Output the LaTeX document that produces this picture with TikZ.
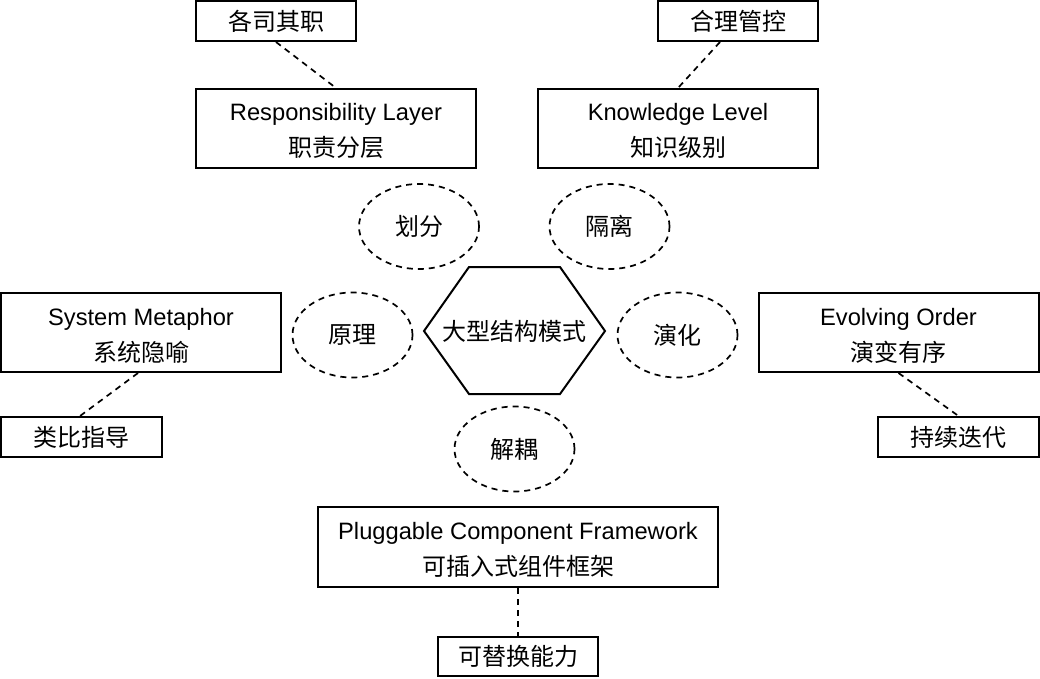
\documentclass[tikz,border=0pt]{standalone}
\usepackage{fontspec}
\setmainfont{Liberation Sans}
\newfontfamily\cjk{Noto Sans CJK SC}
\usetikzlibrary{shapes.geometric}
\newcommand\tstrut{\rule{0pt}{23pt}}
\begin{document}
\begin{tikzpicture}[x=1pt,y=-1pt,
  box/.style={draw, line width=2pt, inner sep=0pt, align=center,
    font=\fontsize{23.7}{36}\selectfont},
  oval/.style={draw, ellipse, line width=1.7pt, dash pattern=on 6pt off 5pt,
    minimum width=120pt, minimum height=85pt, inner sep=0pt,
    font=\cjk\fontsize{24}{28}\selectfont},
  core/.style={inner sep=0pt, font=\cjk\fontsize{24}{28}\selectfont},
  link/.style={line width=1.7pt, dash pattern=on 6pt off 5pt}]
\useasboundingbox (0,0) rectangle (1040,678);

% boxes
\node[box, minimum width=160pt, minimum height=40pt] (gs) at (276,21) {\cjk\fontsize{24}{28}\selectfont 各司其职};
\node[box, minimum width=280pt, minimum height=79pt] (rl) at (336,128.5) {\tstrut Responsibility Layer\\\cjk\fontsize{24}{36}\selectfont 职责分层};
\node[box, minimum width=160pt, minimum height=40pt] (hl) at (738,21) {\cjk\fontsize{24}{28}\selectfont 合理管控};
\node[box, minimum width=280pt, minimum height=79pt] (kl) at (678,128.5) {\tstrut Knowledge Level\\\cjk\fontsize{24}{36}\selectfont 知识级别};
\node[box, minimum width=280pt, minimum height=79pt] (sm) at (141,332.5) {\tstrut System Metaphor\\\cjk\fontsize{24}{36}\selectfont 系统隐喻};
\node[box, minimum width=161pt, minimum height=40pt] (lb) at (81.5,437) {\cjk\fontsize{24}{28}\selectfont 类比指导};
\node[box, minimum width=280pt, minimum height=79pt] (eo) at (898.5,332.5) {\tstrut Evolving Order\\\cjk\fontsize{24}{36}\selectfont 演变有序};
\node[box, minimum width=161pt, minimum height=40pt] (cx) at (958.5,437) {\cjk\fontsize{24}{28}\selectfont 持续迭代};
\node[box, minimum width=400pt, minimum height=80pt] (pc) at (518,547) {\tstrut Pluggable Component Framework\\\cjk\fontsize{24}{36}\selectfont 可插入式组件框架};
\node[box, minimum width=160pt, minimum height=39pt] (kt) at (518,656.5) {\cjk\fontsize{24}{28}\selectfont 可替换能力};

% ellipses
\node[oval] (hf) at (419,226.5) {划分};
\node[oval] (gl) at (609.5,226.5) {隔离};
\node[oval] (yl) at (352.5,335) {原理};
\node[oval] (yh) at (677.5,335) {演化};
\node[oval] (jo) at (514.5,449) {解耦};

% hexagon
\draw[line width=2pt] (424,331) -- (469,267) -- (560,267) -- (605,331) -- (560,394) -- (469,394) -- cycle;
\node[core] (dx) at (514.5,331) {大型结构模式};

% connectors
\draw[link] (gs.south) -- (rl.north);
\draw[link] ([xshift=-18pt]hl.south) -- (kl.north);
\draw[link] ([xshift=-3pt]sm.south) -- ([xshift=-1.5pt]lb.north);
\draw[link] (eo.south) -- (cx.north);
\draw[link] (pc.south) -- (kt.north);
\end{tikzpicture}
\end{document}
